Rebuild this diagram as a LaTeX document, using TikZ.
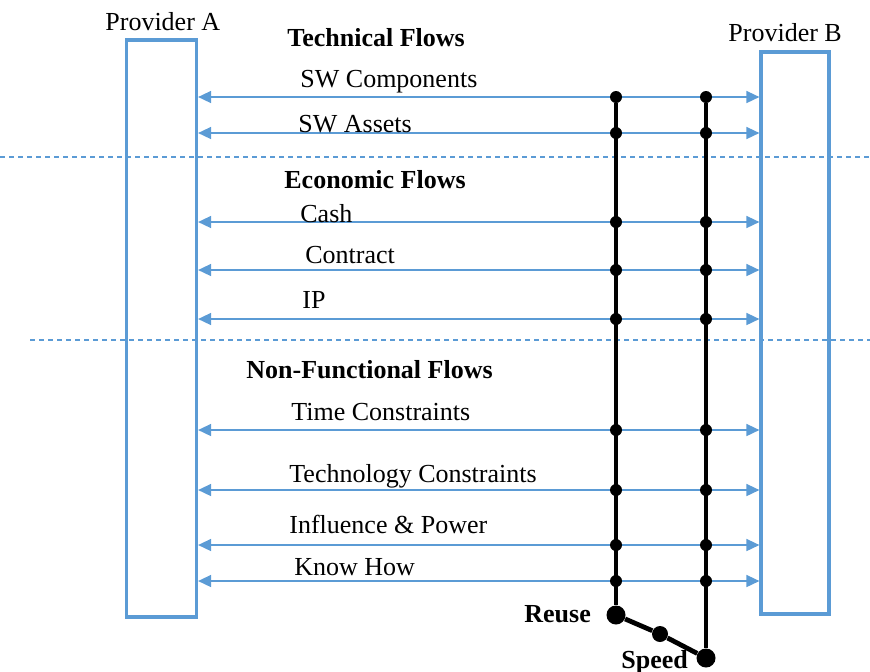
\documentclass[tikz,border=0pt]{standalone}
\usepackage{fontspec}
\setmainfont{Liberation Serif}
\usetikzlibrary{arrows.meta, positioning}
\definecolor{flowblue}{RGB}{91,155,213}

\begin{document}
\begin{tikzpicture}[
  x=0.5pt, y=-0.5pt,
  every node/.style={font=\fontsize{13}{15}\selectfont},
  provider/.style={rectangle, draw=flowblue, line width=1.6pt, inner sep=0pt},
  lbl/.style={anchor=base west, inner sep=0pt},
  head/.style={lbl, font=\fontsize{13}{15}\selectfont\bfseries},
  flow/.style={{Triangle[length=6.5pt,width=6pt]}-{Triangle[length=6.5pt,width=6pt]},
               draw=flowblue, fill=flowblue, line width=0.8pt},
  sep/.style={draw=flowblue, line width=0.7pt, dash pattern=on 2.5pt off 2pt},
  stem/.style={line width=2.4pt, black},
  dot/.style={circle, fill=black, inner sep=0pt, minimum size=6pt},
  bigdot/.style={circle, fill=black, inner sep=0pt, minimum size=9.5pt},
]
\useasboundingbox (0,0) rectangle (870,671);

% section separators
\coordinate (sl1) at (0,157);   \coordinate (sr1) at (870,157);
\coordinate (sl2) at (30,340);  \coordinate (sr2) at (870,340);
\draw[sep] (sl1) -- (sr1);
\draw[sep] (sl2) -- (sr2);

% the two providers
\node[provider, minimum width=35pt, minimum height=288.5pt] (pa) at (161.5,328.5) {};
\node[provider, minimum width=34pt, minimum height=281pt]   (pb) at (795,333) {};
\node[lbl] (pal) at (105,30) {Provider A};
\node[lbl] (pbl) at (728,41) {Provider B};

% flows between the providers, with the two timelines crossing them
\foreach \y [count=\i] in {97,133,222,270,319,430,490,545,581} {
  \coordinate (fa\i) at (pa.east |- 0,\y);
  \coordinate (fb\i) at (pb.west |- 0,\y);
  \draw[flow] (fa\i) -- (fb\i);
  \node[dot] (r\i) at (616,\y) {};
  \node[dot] (s\i) at (706,\y) {};
}

\node[bigdot] (reuse) at (616,615) {};
\node[dot, minimum size=8pt] (mid) at (660,634) {};
\node[bigdot] (speed) at (706,658) {};
\draw[stem] (r1) -- (reuse);
\draw[stem] (s1) -- (speed);
\draw[stem] (reuse) -- (mid) -- (speed);

\node[head] (tech) at (287,46)  {Technical Flows};
\node[lbl]  (swc)  at (300,87)  {SW Components};
\node[lbl]  (swa)  at (298,132) {SW Assets};
\node[head] (econ) at (284,188) {Economic Flows};
\node[lbl]  (cash) at (300,222) {Cash};
\node[lbl]  (con)  at (305,263) {Contract};
\node[lbl]  (ip)   at (302,308) {IP};
\node[head] (nonf) at (246,378) {Non-Functional Flows};
\node[lbl]  (time) at (291,420) {Time Constraints};
\node[lbl]  (tcon) at (289,482) {Technology Constraints};
\node[lbl]  (infl) at (289,533) {Influence \& Power};
\node[lbl]  (know) at (294,575) {Know How};
\node[head] (reusel) at (524,622) {Reuse};
\node[head] (speedl) at (621,668) {Speed};
\end{tikzpicture}
\end{document}
